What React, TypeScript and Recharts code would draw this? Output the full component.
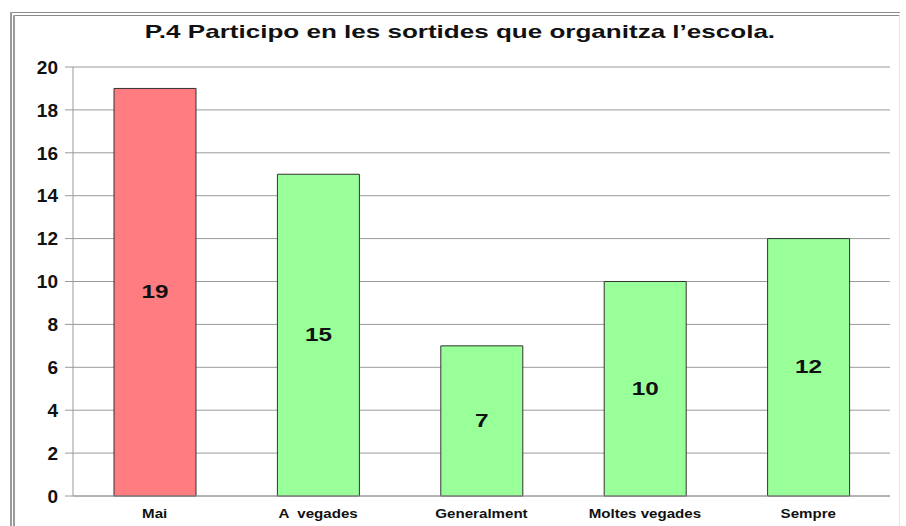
import { BarChart, Bar, XAxis, YAxis, CartesianGrid, Cell, LabelList } from 'recharts'

const CATEGORIES = ['Mai', 'A  vegades', 'Generalment', 'Moltes vegades', 'Sempre']
const VALUES = [19, 15, 7, 10, 12]
const Y_TICKS = [0, 2, 4, 6, 8, 10, 12, 14, 16, 18, 20]
const TITLE = 'P.4 Participo en les sortides que organitza l’escola.'

const FONT = '"Liberation Sans", Arial, sans-serif'

const data = CATEGORIES.map((name, i) => ({ name, value: VALUES[i] }))

// the original picture is a bit stretched sideways
const XTick = (props: any) => {
  const { x, y, payload } = props
  return (
    <g transform={`translate(${x},${y + 14}) scale(1.26,1)`}>
      <text textAnchor='middle' fill='#111' fontSize={12} fontWeight='bold' fontFamily={FONT} style={{ whiteSpace: 'pre' }}>
        {payload.value}
      </text>
    </g>
  )
}

const ValueLabel = (props: any) => {
  const { x, y, width, height, value } = props
  return (
    <g transform={`translate(${x + width / 2},${y + height / 2 + 6}) scale(1.35,1)`}>
      <text textAnchor='middle' fill='#111' fontSize={18} fontWeight='bold' fontFamily={FONT}>
        {value}
      </text>
    </g>
  )
}

const App = () => {
  return (
    <div style={{ position: 'absolute', left: 0, top: 0, width: 906, height: 526, background: '#fff', fontFamily: FONT }}>
      <div
        style={{
          position: 'absolute',
          left: 10,
          top: 12,
          width: 890,
          height: 520,
          borderLeft: '5px double #9a9a9a',
          borderTop: '4px double #8a8a8a',
          borderRight: '1px solid #e4e4e4',
          boxSizing: 'border-box',
        }}
      />
      <div
        style={{
          position: 'absolute',
          left: 0,
          width: 920,
          top: 21,
          textAlign: 'center',
          fontWeight: 'bold',
          fontSize: 19,
          color: '#111',
          transform: 'scaleX(1.37)',
          transformOrigin: '460px 0',
        }}
      >
        {TITLE}
      </div>
      <div style={{ position: 'absolute', left: 0, top: 0 }}>
        <BarChart width={906} height={526} data={data} margin={{ top: 67, right: 16, bottom: 0, left: 0 }}>
          <CartesianGrid vertical={false} stroke='#9a9a9a' />
          <XAxis
            dataKey='name'
            height={30}
            tickLine={false}
            axisLine={{ stroke: '#9a9a9a' }}
            tick={<XTick />}
            interval={0}
          />
          <YAxis
            width={73}
            domain={[0, 20]}
            ticks={Y_TICKS}
            tickSize={8}
            tickLine={{ stroke: '#9a9a9a' }}
            axisLine={{ stroke: '#9a9a9a' }}
            tick={{ fill: '#111', fontSize: 19, fontWeight: 'bold', fontFamily: FONT, dx: -5 }}
          />
          <Bar dataKey='value' barSize={82} stroke='#333' strokeWidth={1} isAnimationActive={false}>
            {data.map((_d, i) => (
              <Cell key={`cell-${i}`} fill={i === 0 ? '#ff7c80' : '#99ff99'} />
            ))}
            <LabelList dataKey='value' content={<ValueLabel />} />
          </Bar>
        </BarChart>
      </div>
    </div>
  )
}

export default App
